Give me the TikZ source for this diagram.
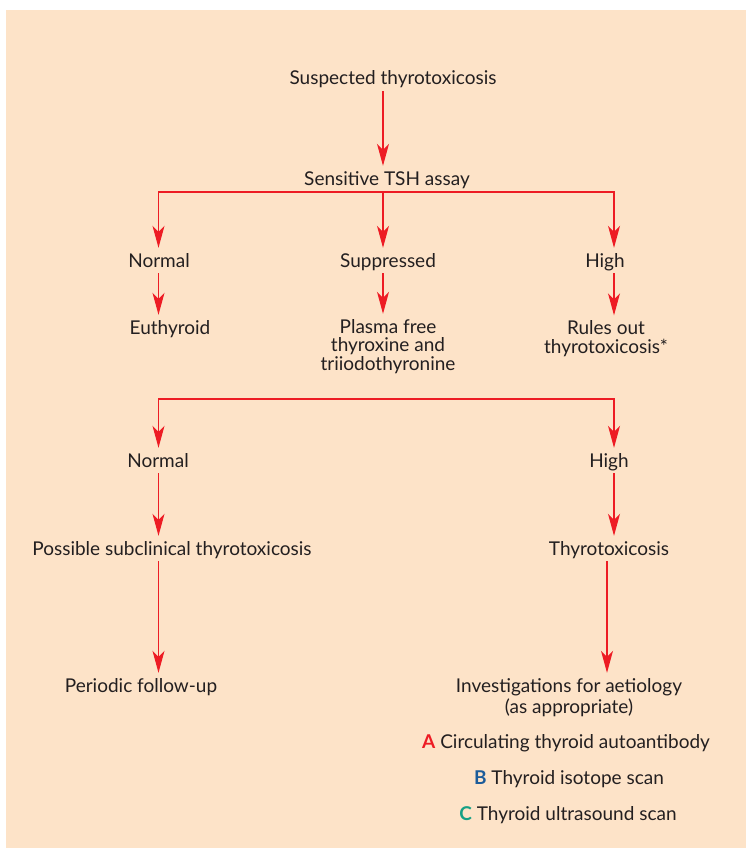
\documentclass[tikz,border=0pt]{standalone}
\usepackage{fontspec}
\setmainfont{Lato}
\usetikzlibrary{positioning, calc, arrows.meta}
\definecolor{bgFill}{HTML}{FDE3C8}
\definecolor{aRed}{HTML}{ED1C24}
\definecolor{bBlue}{HTML}{1C5C9A}
\definecolor{cGreen}{HTML}{16A085}
\definecolor{txtCol}{HTML}{231F20}
\tikzset{
    Arrow/.style = {
        line width=1.1pt,
        color=#1,
        -{Stealth[length=22pt, width=12pt, inset=6pt]},
        shorten >= 3pt
    },
    Arrow/.default={aRed},
    Link/.style = {line width=1.1pt, color=aRed, line cap=rect},
    Label/.style = {text=txtCol, font=\fontsize{19}{18}\selectfont,
        inner xsep=0pt, inner ysep=2pt, text height=14pt, text depth=4pt,
        anchor=base},
    Block/.style = {text=txtCol, font=\fontsize{19}{18.5}\selectfont,
        inner xsep=0pt, inner ysep=2pt, anchor=base, align=center}
}

\begin{document}
\begin{tikzpicture}[x=1pt, y=-1pt]
    \useasboundingbox (0,0) rectangle (746,848);
    \fill [bgFill] (6,10) rectangle (746,848);
    % columns and split levels
    \coordinate (colL) at (158.5,0);
    \coordinate (colM) at (383,0);
    \coordinate (colR) at (614,0);
    \coordinate (colR2) at (607,0);
    \coordinate (split1) at (0,192);
    \coordinate (split2) at (0,399);

    \node [Label] (susp) at (393,85) {Suspected thyrotoxicosis};
    \node [Label] (tsh) at (387,185) {Sensitive TSH assay};
    \node [Label] (norm1) at (159,267) {Normal};
    \node [Label] (supp) at (388,267) {Suppressed};
    \node [Label] (high1) at (605,267) {High};
    \node [Label] (euth) at (170,334) {Euthyroid};
    % multi-line blocks sit on their last baseline
    \node [Block] (plasma) at (388,370)
        {Plasma free\\thyroxine and\\triiodothyronine};
    \node [Block] (rules) at (606,353) {Rules out\\thyrotoxicosis*};
    \node [Label] (norm2) at (158,467) {Normal};
    \node [Label] (high2) at (609,467) {High};
    \node [Label] (subcl) at (172,555) {Possible subclinical thyrotoxicosis};
    \node [Label] (thyro) at (609,555) {Thyrotoxicosis};
    \node [Label] (follow) at (141,692) {Periodic follow-up};
    \node [Block, font=\fontsize{19}{21}\selectfont] (invest) at (569,713)
        {Investigations for aetiology\\(as appropriate)};
    \node [Label] (testA) at (566,748) {\textcolor{aRed}{\textbf{A}} Circulating thyroid autoantibody};
    \node [Label] (testB) at (569,784) {\textcolor{bBlue}{\textbf{B}} Thyroid isotope scan};
    \node [Label] (testC) at (568,820) {\textcolor{cGreen}{\textbf{C}} Thyroid ultrasound scan};

    \draw [Arrow] (susp.south -| colM) to (tsh.north -| colM);
    \draw [Link] (colL |- split1) to (colR |- split1);
    \draw [Arrow] (colL |- split1) to (colL |- norm1.north);
    \draw [Arrow] (colM |- split1) to (colM |- supp.north);
    \draw [Arrow] (colR |- split1) to (colR |- high1.north);
    \draw [Arrow] (norm1.south -| colL) to (euth.north -| colL);
    \draw [Arrow] (supp.south -| colM) to (plasma.north -| colM);
    \draw [Arrow] (high1.south -| colR) to (rules.north -| colR);
    \draw [Link] (colL |- split2) to (colR |- split2);
    \draw [Arrow] (colL |- split2) to (colL |- norm2.north);
    \draw [Arrow] (colR |- split2) to (colR |- high2.north);
    \draw [Arrow] (norm2.south -| colL) to (subcl.north -| colL);
    \draw [Arrow] (high2.south -| colR) to (thyro.north -| colR);
    \draw [Arrow] (subcl.south -| colL) to (follow.north -| colL);
    \draw [Arrow] (thyro.south -| colR2) to (invest.north -| colR2);
\end{tikzpicture}
\end{document}
